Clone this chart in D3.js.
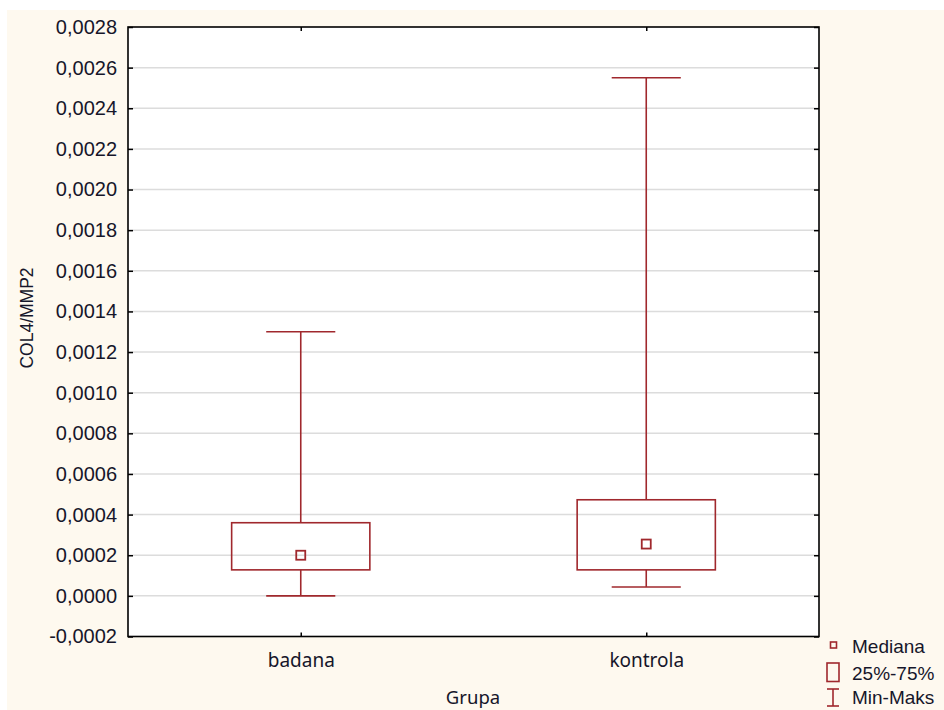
<!DOCTYPE html>
<html>
<head>
<meta charset="utf-8">
<script src="https://cdn.jsdelivr.net/npm/d3@7"></script>
<style>
  html, body { margin: 0; padding: 0; background: #ffffff; }
  svg { display: block; }
</style>
</head>
<body>
<svg id="chart" width="944" height="710"></svg>
<script>
// Groups and their summary statistics for COL4/MMP2
const groups = ["badana", "kontrola"];
const minVals = [0.0, 0.000044];
const q1Vals = [0.000128, 0.000128];
const medianVals = [0.0002, 0.000255];
const q3Vals = [0.00036, 0.000473];
const maxVals = [0.0013, 0.00255];
const yTicks = [-0.0002, 0, 0.0002, 0.0004, 0.0006, 0.0008, 0.0010, 0.0012, 0.0014,
                0.0016, 0.0018, 0.0020, 0.0022, 0.0024, 0.0026, 0.0028];
const legendItems = ["Mediana", "25%-75%", "Min-Maks"];

const stats = groups.map((g, i) => ({
  group: g, min: minVals[i], q1: q1Vals[i], median: medianVals[i], q3: q3Vals[i], max: maxVals[i]
}));

const svg = d3.select("#chart");
const W = 944, H = 710;
const plot = { left: 128, right: 819, top: 27, bottom: 636.5 };
const red = "#a0282d";
const tickFont = "'Liberation Sans', Arial, sans-serif";
const textColor = "#16162a";

// page panel
svg.append("rect").attr("x", 7).attr("y", 10).attr("width", W - 7).attr("height", H - 10)
  .attr("fill", "#fef9ef");
svg.append("rect").attr("x", plot.left).attr("y", plot.top)
  .attr("width", plot.right - plot.left).attr("height", plot.bottom - plot.top)
  .attr("fill", "#ffffff");

const x = d3.scalePoint().domain(groups).range([plot.left, plot.right]).padding(0.5);
const y = d3.scaleLinear().domain([-0.0002, 0.0028]).range([plot.bottom, plot.top]);

const fmt = v => d3.format(".4f")(Math.abs(v) < 1e-12 ? 0 : v).replace(".", ",").replace("−", "-");

// horizontal grid
svg.append("g").selectAll("line").data(yTicks.filter(t => t > -0.0002 && t < 0.0028)).join("line")
  .attr("x1", plot.left).attr("x2", plot.right)
  .attr("y1", d => y(d)).attr("y2", d => y(d))
  .attr("stroke", "#dcdcdc").attr("stroke-width", 1.5);

// left axis (ticks pointing inward)
const yAxisL = d3.axisLeft(y).tickValues(yTicks).tickSize(-5).tickPadding(16).tickFormat(fmt);
const gL = svg.append("g").attr("transform", `translate(${plot.left},0)`).call(yAxisL);
gL.select(".domain").remove();
gL.selectAll(".tick line").attr("stroke", "#000").attr("stroke-width", 1.5);
gL.selectAll(".tick text").attr("font-family", tickFont).attr("font-size", 20)
  .attr("fill", textColor).attr("x", -11);

// right axis ticks
const yAxisR = d3.axisRight(y).tickValues(yTicks).tickSize(-5).tickFormat("");
const gR = svg.append("g").attr("transform", `translate(${plot.right},0)`).call(yAxisR);
gR.select(".domain").remove();
gR.selectAll(".tick line").attr("stroke", "#000").attr("stroke-width", 1.5);

// bottom axis
const xAxisB = d3.axisBottom(x).tickSize(-4).tickPadding(0);
const gB = svg.append("g").attr("transform", `translate(0,${plot.bottom})`).call(xAxisB);
gB.select(".domain").remove();
gB.selectAll(".tick line").attr("stroke", "#000").attr("stroke-width", 1.5);
gB.selectAll(".tick text").attr("font-family", "'Noto Sans', 'Open Sans', sans-serif")
  .attr("font-size", 19).attr("fill", textColor).attr("dy", null)
  .attr("y", 30.5).attr("dominant-baseline", "alphabetic");

// top axis ticks
const xAxisT = d3.axisTop(x).tickSize(-4).tickFormat("");
const gT = svg.append("g").attr("transform", `translate(0,${plot.top})`).call(xAxisT);
gT.select(".domain").remove();
gT.selectAll(".tick line").attr("stroke", "#000").attr("stroke-width", 1.5);

// frame
svg.append("rect").attr("x", plot.left).attr("y", plot.top)
  .attr("width", plot.right - plot.left).attr("height", plot.bottom - plot.top)
  .attr("fill", "none").attr("stroke", "#000").attr("stroke-width", 1.6);

// boxes
const plotW = plot.right - plot.left;
const boxW = plotW * 0.2;
const capW = boxW / 2;
const gBox = svg.append("g").attr("stroke", red).attr("stroke-width", 1.6).attr("fill", "none");
stats.forEach(d => {
  const cx = x(d.group);
  gBox.append("line").attr("x1", cx).attr("x2", cx).attr("y1", y(d.max)).attr("y2", y(d.q3));
  gBox.append("line").attr("x1", cx).attr("x2", cx).attr("y1", y(d.q1)).attr("y2", y(d.min));
  gBox.append("line").attr("x1", cx - capW / 2).attr("x2", cx + capW / 2).attr("y1", y(d.max)).attr("y2", y(d.max));
  gBox.append("line").attr("x1", cx - capW / 2).attr("x2", cx + capW / 2).attr("y1", y(d.min)).attr("y2", y(d.min));
  gBox.append("rect").attr("x", cx - boxW / 2).attr("y", y(d.q3))
    .attr("width", boxW).attr("height", y(d.q1) - y(d.q3));
  gBox.append("rect").attr("x", cx - 4.5).attr("y", y(d.median) - 4.5)
    .attr("width", 9).attr("height", 9).attr("stroke-width", 1.8);
});

// axis titles
svg.append("text").attr("transform", `translate(33,318) rotate(-90)`)
  .attr("text-anchor", "middle").attr("font-family", tickFont).attr("font-size", 17.5)
  .attr("fill", textColor).text("COL4/MMP2");
svg.append("text").attr("x", 473).attr("y", 704).attr("text-anchor", "middle")
  .attr("font-family", "'Noto Sans', 'Open Sans', sans-serif").attr("font-size", 18.5)
  .attr("fill", textColor).text("Grupa");

// legend
const lg = svg.append("g");
const lx = 833, rowsY = [653, 680, 704];
lg.append("rect").attr("x", lx - 2.5).attr("y", 642).attr("width", 6).attr("height", 6)
  .attr("fill", "none").attr("stroke", red).attr("stroke-width", 1.6);
lg.append("rect").attr("x", lx - 6).attr("y", 663).attr("width", 12).attr("height", 18.5)
  .attr("fill", "none").attr("stroke", red).attr("stroke-width", 1.6);
lg.append("line").attr("x1", lx).attr("x2", lx).attr("y1", 689).attr("y2", 706)
  .attr("stroke", red).attr("stroke-width", 1.6);
lg.append("line").attr("x1", lx - 6).attr("x2", lx + 6).attr("y1", 689).attr("y2", 689)
  .attr("stroke", red).attr("stroke-width", 1.6);
lg.append("line").attr("x1", lx - 6).attr("x2", lx + 6).attr("y1", 706).attr("y2", 706)
  .attr("stroke", red).attr("stroke-width", 1.6);
lg.selectAll("text").data(legendItems).join("text")
  .attr("x", 852).attr("y", (d, i) => rowsY[i])
  .attr("font-family", tickFont).attr("font-size", 19).attr("fill", textColor)
  .text(d => d);
</script>
</body>
</html>
